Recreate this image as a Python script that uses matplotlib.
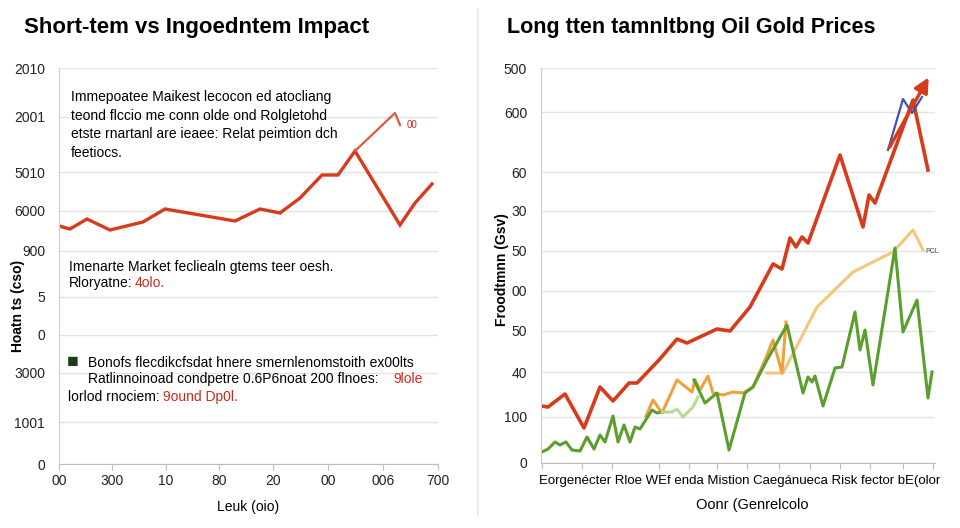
import matplotlib
matplotlib.use('Agg')
import matplotlib.pyplot as plt

plt.rcParams['font.family'] = ['Liberation Sans', 'DejaVu Sans']

# ---- left panel data ----
left_x = [0, 11, 28, 51, 84, 106, 176, 201, 221, 241, 263, 279, 296, 341, 356, 373]
left_y = [238, 235, 245, 234, 242, 255, 243, 255, 251, 266, 289, 289, 313, 239, 261, 280]
left_branch_x = [296, 336, 341]
left_branch_y = [313, 351, 339]
left_yticks = [0, 42, 91, 129, 167, 213, 253, 292, 347, 396]
left_ylabels = ['0', '1001', '3000', '0', '5', '900', '6000', '5010', '2001', '2010']
left_xticks = [0, 53, 107, 160, 214, 269, 324, 379]
left_xlabels = ['00', '300', '10', '80', '20', '00', '006', '700']

# ---- right panel data ----
red_x = [0, 7, 24, 43, 59, 72, 88, 96, 118, 136, 146, 176, 189, 209, 232, 241,
         249, 255, 261, 267, 299, 322, 328, 334, 372, 387]
red_y = [57, 56, 69, 35, 76, 62, 80, 80, 103, 124, 120, 134, 132, 156, 199, 194,
         225, 216, 226, 220, 308, 236, 268, 260, 363, 293]
blue_x = [347, 362, 371, 381]
blue_y = [313, 364, 350, 366]
orange_x = [105, 112, 121, 136, 151, 154, 159, 167, 172, 182, 192, 202, 212, 224, 232, 241, 245]
orange_y = [47, 63, 50, 83, 71, 83, 73, 87, 70, 68, 71, 70, 76, 103, 123, 90, 141]
tan_x = [226, 242, 276, 312, 352, 372, 382]
tan_y = [90, 90, 156, 191, 211, 233, 213]
green1_x = [1, 7, 14, 19, 25, 31, 39, 46, 53, 59, 64, 72, 77, 83, 89, 94, 99, 111, 116, 121]
green1_y = [11, 14, 21, 18, 21, 13, 12, 26, 14, 28, 21, 47, 21, 38, 21, 36, 34, 53, 50, 51]
lgreen_x = [121, 131, 136, 142, 152, 157]
lgreen_y = [51, 51, 54, 46, 56, 66]
green2_x = [153, 164, 176, 188, 204, 212, 226, 246, 262, 267, 271, 274, 282, 294, 301,
            314, 319, 324, 332, 354, 362, 376, 387, 391]
green2_y = [83, 60, 70, 13, 70, 76, 103, 138, 70, 86, 81, 87, 57, 95, 96,
            151, 113, 133, 78, 215, 131, 163, 65, 91]
right_yticks = [0, 46, 91, 132, 172, 212, 252, 291, 351, 395]
right_ylabels = ['0', '100', '40', '50', '00', '50', '30', '60', '600', '500']
right_xticks = [1, 41, 71, 118, 148, 176, 206, 238, 269, 299, 329, 362, 392]

RED = '#d83a1c'
TXT_RED = '#cc2a1e'
GRID = '#e3e3e3'

fig = plt.figure(figsize=(9.6, 5.28), dpi=100)


def fx(px):
    return px / 960


def fy(py):
    return 1 - py / 528


def style_axes(ax):
    for s in ['top', 'right']:
        ax.spines[s].set_visible(False)
    ax.spines['left'].set_color('#cfcfcf')
    ax.spines['bottom'].set_color('#bdbdbd')
    ax.grid(axis='y', color=GRID, linewidth=1)
    ax.set_axisbelow(True)
    ax.tick_params(axis='y', length=0, labelsize=10, pad=10, colors='#222222')
    ax.tick_params(axis='x', length=4, color='#bdbdbd', labelsize=10, colors='#222222')


# left axes
ax1 = fig.add_axes([fx(59), fy(464), fx(438 - 59), (464 - 68) / 528])
style_axes(ax1)
ax1.plot(left_x, left_y, color=RED, lw=2.4, solid_joinstyle='miter')
ax1.plot(left_branch_x, left_branch_y, color='#d85a40', lw=1.6)
ax1.text(348, 339, '00', color=TXT_RED, fontsize=7, va='center')
ax1.set_xlim(0, 379)
ax1.set_ylim(0, 396)
ax1.set_yticks(left_yticks, left_ylabels)
ax1.set_xticks(left_xticks, left_xlabels)
ax1.set_xlabel('Leuk (oio)', fontsize=10, labelpad=8)
ax1.set_ylabel('Hoatn ts (cso)', fontsize=10, fontweight='bold')
ax1.yaxis.set_label_coords(-0.09, 0.40)

# right axes
ax2 = fig.add_axes([fx(541), fy(463), fx(935 - 541), (463 - 68) / 528])
style_axes(ax2)
ax2.plot(tan_x, tan_y, color='#f3c67e', lw=2.2)
ax2.plot(orange_x, orange_y, color='#eea23c', lw=2.2)
ax2.plot(green1_x, green1_y, color='#5c9e2e', lw=2.2)
ax2.plot(lgreen_x, lgreen_y, color='#b2dc98', lw=2.2)
ax2.plot(green2_x, green2_y, color='#5c9e2e', lw=2.2)
ax2.plot(red_x, red_y, color=RED, lw=2.6)
ax2.plot(blue_x, blue_y, color='#3a56a8', lw=1.6)
ax2.annotate('', xy=(389, 388), xytext=(347, 313),
             arrowprops=dict(arrowstyle='-|>', color=RED, lw=2.4, mutation_scale=22))
ax2.text(384, 210, 'PCL', fontsize=5, color='#444444')
ax2.set_xlim(0, 394)
ax2.set_ylim(0, 395)
ax2.set_yticks(right_yticks, right_ylabels)
ax2.set_xticks(right_xticks, [''] * len(right_xticks))
ax2.set_ylabel('Froodtmnn (Gsv)', fontsize=10, fontweight='bold')
ax2.yaxis.set_label_coords(-0.08, 0.49)

# titles
fig.text(fx(24), fy(28), 'Short-tem vs Ingoedntem Impact', fontsize=16, fontweight='bold',
         va='center', ha='left')
fig.text(fx(507), fy(28), 'Long tten tamnltbng Oil Gold Prices', fontsize=15.5, fontweight='bold',
         va='center', ha='left')

# left panel notes
note1 = ['Immepoatee Maikest lecocon ed atocliang',
         'teond flccio me conn olde ond Rolgletohd',
         'etste rnartanl are ieaee: Relat peimtion dch',
         'feetiocs.']
for i, line in enumerate(note1):
    fig.text(fx(71), fy(97 + i * 18.7), line, fontsize=10, va='center')

fig.text(fx(69), fy(267), 'Imenarte Market fecliealn gtems teer oesh.', fontsize=10, va='center')
fig.text(fx(69), fy(283), 'Rloryatne:', fontsize=10, va='center')
fig.text(fx(135), fy(283), '4olo.', fontsize=10, va='center', color=TXT_RED)

fig.text(fx(67), fy(362), '\u25A0', fontsize=14, va='center', color='#1f3a1a')
fig.text(fx(88), fy(363), 'Bonofs flecdikcfsdat hnere smernlenomstoith ex00lts',
         fontsize=10, va='center')
fig.text(fx(88), fy(379), 'Ratlinnoinoad condpetre 0.6P6noat 200 flnoes:', fontsize=10, va='center')
fig.text(fx(393), fy(379), '9lole', fontsize=10, va='center', color=TXT_RED)
fig.text(fx(68), fy(397), 'lorlod rnociem:', fontsize=10, va='center')
fig.text(fx(163), fy(397), '9ound Dp0l.', fontsize=10, va='center', color=TXT_RED)

# right panel x text
fig.text(fx(740), fy(481), 'Eorgenécter Rloe WEf enda Mistion Caegánueca Risk fector bE(olor',
         fontsize=9.5, va='center', ha='center')
fig.text(fx(752), fy(505), 'Oonr (Genrelcolo', fontsize=10.5, va='center', ha='center')

# separator
fig.add_artist(plt.Line2D([fx(478), fx(478)], [fy(10), fy(515)], color='#ececec', lw=1.5))

fig.savefig('out.png', dpi=100, facecolor='white')
